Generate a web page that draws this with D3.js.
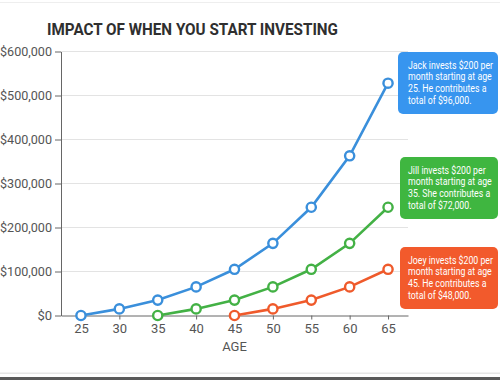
<!DOCTYPE html>
<html><head><meta charset="utf-8">
<script src="https://cdn.jsdelivr.net/npm/d3@7"></script>
<style>
html,body{margin:0;padding:0;background:#fff;}
svg{display:block;font-family:Roboto,"Noto Sans",sans-serif;}
</style></head>
<body>
<svg id="chart" width="500" height="380"></svg>
<script>
const ages = [25,30,35,40,45,50,55,60,65];
const jack = [0,15000,35000,65000,105000,164000,246000,363000,528000];
const jill = [null,null,0,15000,35000,65000,105000,164000,246000];
const joey = [null,null,null,null,0,15000,35000,65000,105000];
const yTicks = [0,100000,200000,300000,400000,500000,600000];
const xTicks = [25,30,35,40,45,50,55,60,65];
const seriesNames = ["Jack","Jill","Joey"];
const notes = [
  ["Jack invests $200 per","month starting at age","25. He contributes a","total of $96,000."],
  ["Jill invests $200 per","month starting at age","35. She contributes a","total of $72,000."],
  ["Joey invests $200 per","month starting at age","45. He contributes a","total of $48,000."]
];
const title = "IMPACT OF WHEN YOU START INVESTING";
const xLabel = "AGE";

const lineColors = ["#3a8fdb","#43b145","#ef5a2b"];
const boxColors = ["#3795ef","#3fb640","#f25a2c"];
const boxTops = [52,157,247];

const svg = d3.select("#chart");
// decorative frame lines
svg.append("rect").attr("x",0).attr("y",2).attr("width",500).attr("height",1).attr("fill","#eeeeee");
svg.append("rect").attr("x",0).attr("y",372.5).attr("width",500).attr("height",1.5).attr("fill","#e6e6e6");
svg.append("rect").attr("x",0).attr("y",377).attr("width",500).attr("height",3).attr("fill","#5a5a5a");

const x = d3.scaleLinear().domain([22.4,67.6]).range([61,408]);
const y = d3.scaleLinear().domain([0,600000]).range([315.5,51.5]);

// title
svg.append("text").attr("x",47).attr("y",35).attr("font-size",17).attr("font-weight","bold")
  .attr("fill","#2f2f2f").attr("textLength",291).attr("lengthAdjust","spacingAndGlyphs").text(title);

// gridlines
svg.append("g").selectAll("line").data(yTicks.filter(d=>d>0)).join("line")
  .attr("x1",61).attr("x2",408).attr("y1",d=>y(d)).attr("y2",d=>y(d))
  .attr("stroke","#e3e3e3").attr("stroke-width",1);

// y axis
const fmt = d => "$" + d3.format(",")(d);
const yAxis = svg.append("g").attr("transform","translate(61,0)")
  .call(d3.axisLeft(y).tickValues(yTicks).tickFormat(fmt).tickSize(6).tickSizeOuter(0).tickPadding(3));
yAxis.select(".domain").attr("stroke","#666");
yAxis.selectAll(".tick line").attr("stroke","#666");
yAxis.selectAll(".tick text").attr("fill","#555").attr("font-size",13).attr("font-family","Roboto")
  .attr("textLength",52).attr("lengthAdjust","spacingAndGlyphs");
yAxis.selectAll(".tick text").filter(d=>d===0).attr("textLength",null);

// x axis
const xAxis = svg.append("g").attr("transform","translate(0,315.5)")
  .call(d3.axisBottom(x).tickValues(xTicks).tickSize(4).tickSizeOuter(0).tickPadding(4));
xAxis.select(".domain").attr("stroke","#666");
xAxis.selectAll(".tick line").attr("stroke","#666");
xAxis.selectAll(".tick text").attr("fill","#555").attr("font-size",13).attr("font-family","Roboto");

svg.append("text").attr("x",x(45)).attr("y",351).attr("text-anchor","middle")
  .attr("font-size",13).attr("fill","#555").text(xLabel);

// series
const allSeries = [jack,jill,joey];
const line = d3.line().defined(d=>d[1]!==null).x(d=>x(d[0])).y(d=>y(d[1]));
allSeries.forEach((s,i)=>{
  const pts = ages.map((a,j)=>[a,s[j]]);
  svg.append("path").datum(pts).attr("d",line).attr("fill","none")
    .attr("stroke",lineColors[i]).attr("stroke-width",2.6);
  svg.append("g").selectAll("circle").data(pts.filter(d=>d[1]!==null)).join("circle")
    .attr("cx",d=>x(d[0])).attr("cy",d=>y(d[1])).attr("r",4.6)
    .attr("fill","#fff").attr("stroke",lineColors[i]).attr("stroke-width",2.4);
});

// measure first line to fit condensed width
const probe = svg.append("text").attr("font-size",10.8).text(notes[0][0]);
const w0 = probe.node().getComputedTextLength();
probe.remove();
const sx = Math.min(1, 85 / w0);

// annotation boxes
notes.forEach((lines,i)=>{
  const g = svg.append("g").attr("transform",`translate(${i===0?398:400},${boxTops[i]})`);
  g.append("rect").attr("width",i===0?100:98).attr("height",62).attr("rx",5).attr("fill",boxColors[i]);
  const t = g.append("g").attr("transform",`translate(${i===0?10:8},16.5) scale(${sx},1)`);
  lines.forEach((ln,k)=>{
    t.append("text").attr("x",0).attr("y",k*12).attr("font-size",10.8).attr("fill","#fff").text(ln);
  });
});
</script>
</body></html>
